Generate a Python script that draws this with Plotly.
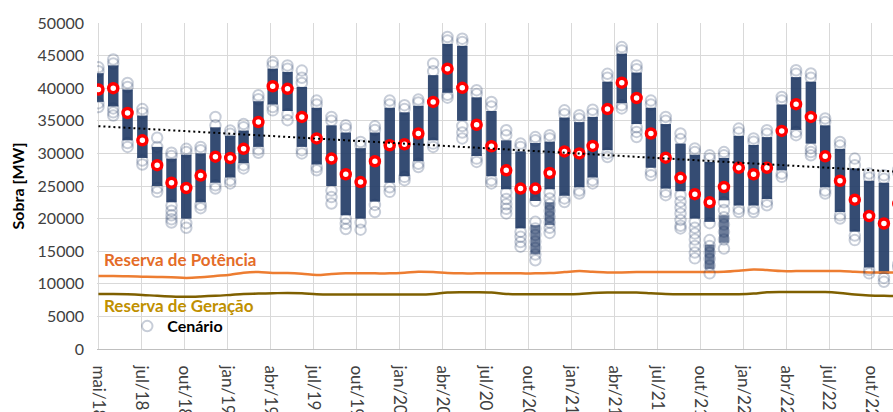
import numpy as np
import pandas as pd
import plotly.graph_objects as go

# ---------------- data ----------------
start_month = "2018-05-01"
n_months = 56

tick_labels = ["mai/18", "jul/18", "out/18", "jan/19", "abr/19", "jul/19", "out/19",
               "jan/20", "abr/20", "jul/20", "out/20", "jan/21", "abr/21", "jul/21",
               "out/21", "jan/22", "abr/22", "jul/22", "out/22"]

mean_values = [39800, 40000, 36200, 32000, 28200, 25500, 24700, 26600, 29500, 29300,
               30700, 34800, 40300, 39900, 35600, 32300, 29200, 26800, 25600, 28800,
               31250, 31400, 33050, 37900, 43000, 40050, 34400, 31100, 27400, 24600,
               24600, 27000, 30300, 30000, 31150, 36800, 40850, 38500, 33050, 29350,
               26250, 23750, 22500, 24850, 27800, 26800, 27800, 33450, 37550, 35600,
               29550, 25800, 22900, 20400, 19250, 22300]

# dense core of the scenario cloud (high / low)
core_hi = [42300, 43500, 39800, 35800, 31000, 29200, 29800, 30000, 34000, 32700,
           33500, 38000, 43000, 42500, 40200, 37000, 34300, 33200, 30800, 33200,
           37000, 36300, 37300, 42000, 46800, 46500, 38600, 36500, 32000, 30300,
           31600, 31800, 35500, 34800, 35600, 41000, 45300, 42400, 37000, 34500,
           31500, 29800, 28700, 29300, 32700, 31300, 32500, 37500, 41700, 41000,
           34300, 30700, 27700, 25800, 25500, 26500]
core_lo = [37900, 37200, 32000, 29300, 25000, 22500, 20000, 22500, 25500, 26300,
           28500, 31000, 37500, 36500, 31000, 28300, 25000, 20500, 20000, 22600,
           25500, 26500, 28800, 32000, 39300, 35000, 29600, 26500, 24500, 18500,
           22700, 24500, 23500, 24800, 26300, 30500, 37700, 34500, 27800, 24600,
           24200, 20000, 19500, 22800, 22000, 22000, 23000, 27400, 33600, 31500,
           24800, 21000, 18000, 12500, 11500, 13500]

# detached secondary clusters
core2_month = [30, 31, 42, 43]
core2_hi = [19000, 22500, 16000, 20500]
core2_lo = [14500, 19000, 12300, 16300]

# individual scenario rings read at the edges / tails of each cloud
scenario_rings = [
    [43200, 42600, 37700, 37100],
    [44400, 43800, 36900, 36300, 35800],
    [40800, 40200, 31600, 31000],
    [36800, 36200, 28900, 28300],
    [32400, 31000, 24700, 24100],
    [30100, 29600, 22000, 21200, 20500, 19900, 19400],
    [30700, 30200, 19300, 18600],
    [31000, 30500, 22100, 21600],
    [35600, 34300, 25100, 24600],
    [33500, 33000, 25900, 25400],
    [34500, 34000, 28200, 27700],
    [38900, 38300, 30600, 30100],
    [44000, 43500, 37100, 36600],
    [43500, 43000, 36000, 35100],
    [42700, 41600, 40800, 30500, 30000],
    [38100, 37500, 27900, 27400],
    [35600, 35000, 24300, 23300, 22300],
    [34300, 33800, 20000, 19200, 18400],
    [31750, 31200, 19400, 18300],
    [34150, 33600, 22100, 21000],
    [38100, 37500, 24800, 24100],
    [37400, 36800, 26400, 25900],
    [38250, 37800, 28400, 27900],
    [43800, 42600, 31500, 31000],
    [47850, 47300, 39000, 38550],
    [47600, 47100, 34200, 33200, 32300],
    [39700, 39100, 29200, 28700],
    [37900, 37200, 25900, 25400],
    [33550, 32800, 24000, 23000, 22200, 21500, 20800],
    [31500, 31000, 18000, 17200, 16400, 15700],
    [32500, 32000, 22700, 19500, 18500, 17500, 16500, 15500, 14500, 13600],
    [32800, 32300, 24000, 23100, 22200, 21200, 20300, 19400, 18600, 17800],
    [36600, 36000, 23100, 22550],
    [35850, 35300, 24300, 23850],
    [36700, 36100, 25900, 25400],
    [42200, 41600, 30000, 29450],
    [46300, 45800, 37400, 36900],
    [43500, 42900, 34000, 33300, 32500],
    [38100, 37500, 27200, 26650],
    [35600, 35000, 24100, 23600],
    [33050, 32200, 23600, 22600, 21700, 20800, 19800, 18900, 18500],
    [30750, 30200, 19500, 18600, 17700, 16800, 15800, 14800, 13900],
    [29700, 29200, 19300, 16700, 15800, 14800, 13800, 12800, 11600],
    [30200, 29700, 22500, 21300, 20200, 19100, 18000, 16800, 15400],
    [33800, 33200, 21500, 21000],
    [32300, 31800, 21500, 21000],
    [33550, 33000, 22600, 22050],
    [38650, 38100, 26900, 26400],
    [42750, 42200, 33300, 32800],
    [42250, 41600, 30800, 30200, 29700],
    [35350, 34800, 24300, 23850],
    [31750, 31200, 20500, 20000],
    [29200, 28200, 17400, 16700],
    [26900, 26300, 12100, 11600],
    [26650, 26100, 10900, 10300],
    [27500, 27000, 13000, 12500],
]

reserva_potencia = [11200, 11200, 11150, 11100, 11050, 11000, 10900, 11000, 11200, 11400,
                    11700, 11800, 11650, 11650, 11550, 11350, 11500, 11600, 11600, 11600,
                    11600, 11700, 11850, 11800, 11650, 11600, 11600, 11600, 11600, 11600,
                    11600, 11650, 11800, 11950, 11850, 11750, 11750, 11800, 11800, 11800,
                    11800, 11800, 11800, 11850, 12000, 12200, 12100, 11950, 11950, 11950,
                    11950, 11950, 11850, 11750, 11750, 11750]
reserva_geracao = [8450, 8450, 8400, 8300, 8150, 8050, 8000, 8050, 8150, 8300,
                   8450, 8500, 8550, 8600, 8550, 8400, 8350, 8350, 8350, 8350,
                   8350, 8350, 8350, 8450, 8650, 8700, 8700, 8650, 8450, 8400,
                   8400, 8400, 8400, 8450, 8600, 8650, 8650, 8650, 8550, 8450,
                   8400, 8400, 8400, 8400, 8400, 8500, 8700, 8750, 8750, 8750,
                   8750, 8600, 8350, 8200, 8150, 8150]

# ---------------- figure ----------------
months = pd.date_range(start_month, periods=n_months, freq="MS")
tick_dates = pd.date_range(start_month, periods=len(tick_labels), freq="90D")
DAY_MS = 86400000
FONT = "Lato, 'Open Sans', sans-serif"
NAVY = "31,56,100"

fig = go.Figure()

fig.add_trace(go.Scatter(x=months, y=reserva_potencia, mode="lines",
                         line=dict(color="#ED7D31", width=2.5, shape="spline"),
                         showlegend=False, hoverinfo="skip"))
fig.add_trace(go.Scatter(x=months, y=reserva_geracao, mode="lines",
                         line=dict(color="#7F6000", width=2.5, shape="spline"),
                         showlegend=False, hoverinfo="skip"))

fig.add_trace(go.Bar(x=months, y=np.array(core_hi) - np.array(core_lo), base=core_lo,
                     width=22 * DAY_MS,
                     marker=dict(color=f"rgba({NAVY},0.9)", line=dict(width=0)),
                     showlegend=False, hoverinfo="skip"))
fig.add_trace(go.Bar(x=months[core2_month], y=np.array(core2_hi) - np.array(core2_lo),
                     base=core2_lo, width=20 * DAY_MS,
                     marker=dict(color=f"rgba({NAVY},0.65)", line=dict(width=0)),
                     showlegend=False, hoverinfo="skip"))

ring_x = [m for m, vals in zip(months, scenario_rings) for _ in vals]
ring_y = [v for vals in scenario_rings for v in vals]
fig.add_trace(go.Scatter(x=ring_x, y=ring_y, mode="markers", name="Cenário",
                         marker=dict(symbol="circle-open", size=10.5,
                                     color=f"rgba({NAVY},0.25)", line=dict(width=2)),
                         showlegend=True))

fig.add_trace(go.Scatter(x=months, y=mean_values, mode="markers",
                         marker=dict(symbol="circle", size=9, color="white",
                                     line=dict(color="#FF0000", width=3.5)),
                         showlegend=False))

t_days = np.array((months - months[0]).days, dtype=float)
coef = np.polyfit(t_days, np.array(mean_values, dtype=float), 1)
fig.add_trace(go.Scatter(x=[months[0], months[-1]],
                         y=np.polyval(coef, [t_days[0], t_days[-1]]),
                         mode="lines", line=dict(color="#000000", width=2, dash="2px,3px"),
                         showlegend=False, hoverinfo="skip"))

fig.add_annotation(text="<b>Reserva de Potência</b>", xref="paper", yref="y",
                   x=0.006, y=13800, xanchor="left", yanchor="middle", showarrow=False,
                   font=dict(family=FONT, size=17, color="#E46C28"))
fig.add_annotation(text="<b>Reserva de Geração</b>", xref="paper", yref="y",
                   x=0.006, y=6600, xanchor="left", yanchor="middle", showarrow=False,
                   font=dict(family=FONT, size=17, color="#C09000"))

fig.update_layout(
    width=893, height=412,
    margin=dict(l=97, r=0, t=23, b=63, autoexpand=False),
    paper_bgcolor="white", plot_bgcolor="white",
    barmode="overlay",
    font=dict(family=FONT, size=16, color="#404040"),
    legend=dict(x=0.038, y=0.07, xanchor="left", yanchor="middle",
                bgcolor="rgba(0,0,0,0)", borderwidth=0,
                font=dict(family=FONT, size=16, color="#000000", weight="bold")),
    xaxis=dict(type="date", range=["2018-04-28", "2022-11-20"], automargin=False,
               tickmode="array", tickvals=tick_dates, ticktext=tick_labels,
               tickangle=90, showgrid=True, gridcolor="#d9d9d9", gridwidth=1,
               showline=True, linecolor="#bfbfbf", linewidth=1, ticks="",
               tickfont=dict(family=FONT, size=17, color="#404040"),
               ticklabelstandoff=12, zeroline=False),
    yaxis=dict(range=[0, 50000], tickmode="linear", tick0=0, dtick=5000, automargin=False,
               showgrid=True, gridcolor="#d9d9d9", gridwidth=1, zeroline=False,
               showline=False, ticks="", tickformat="d",
               tickfont=dict(family=FONT, size=16, color="#404040"),
               ticklabelstandoff=12,
               title=dict(text="<b>Sobra [MW]</b>", standoff=8,
                          font=dict(family=FONT, size=16, color="#000000"))),
)

fig.write_html("out.html", config={"displayModeBar": False},
               post_script="document.body.style.margin='0';document.body.style.padding='0';")
